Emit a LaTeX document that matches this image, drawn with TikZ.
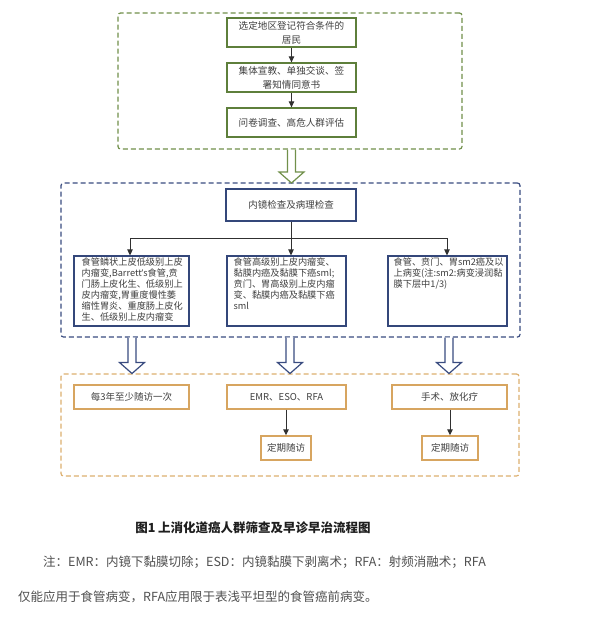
\documentclass[tikz,border=0pt]{standalone}
\usepackage{fontspec}
\setmainfont{Noto Sans CJK SC}
\newfontfamily\latinfont{Noto Sans}
\usetikzlibrary{arrows.meta,calc}
\definecolor{gfr}{HTML}{71904A}
\definecolor{gbx}{HTML}{5E7F3B}
\definecolor{bfr}{HTML}{3A4C80}
\definecolor{bbx}{HTML}{34477A}
\definecolor{ofr}{HTML}{DDB070}
\definecolor{obx}{HTML}{D7A560}
\definecolor{txt}{HTML}{404040}
\definecolor{arr}{HTML}{303030}
\definecolor{notecol}{HTML}{505050}
\newcommand\boxfont{\fontsize{9.5}{11}\selectfont}
\newcommand\gboxfont{\fontsize{9.6}{14}\selectfont}
\newcommand\bboxfont{\fontsize{9.2}{11}\selectfont}
\newcommand\hollowarrow[4]{%
  \draw[#4, line width=1.2pt, fill=white, line join=miter]
    (#1-4,#2) -- (#1-4,#3-11) -- (#1-12.5,#3-11) -- (#1,#3)
    -- (#1+12.5,#3-11) -- (#1+4,#3-11) -- (#1+4,#2);}
\begin{document}
\begin{tikzpicture}[x=1pt,y=-1pt,
  frame/.style={draw, dash pattern=on 5pt off 3pt, line width=1.2pt, rounded corners=2.5pt, inner sep=0},
  gbox/.style={draw=gbx, line width=1.3pt, minimum width=129pt, minimum height=29pt, align=center, font=\gboxfont, text=txt, inner sep=0},
  bbox/.style={draw=bbx, line width=1.2pt, minimum height=70pt, inner sep=0},
  btext/.style={anchor=north west, align=left, font=\bboxfont, text=txt, inner sep=0},
  obox/.style={draw=obx, line width=1.4pt, minimum height=24pt, align=center, font=\boxfont, text=txt, inner sep=0},
  conn/.style={draw=arr, line width=0.9pt, -{Triangle[length=6pt,width=5.5pt]}},
  plain/.style={draw=arr, line width=0.9pt}
]
\useasboundingbox[fill=white] (0,0) rectangle (600,625);

% frames
\node[frame, draw=gfr, minimum width=344pt, minimum height=136pt] (gframe) at (290,81) {};
\node[frame, draw=bfr, minimum width=459pt, minimum height=154pt] (bframe) at (290.5,260) {};
\node[frame, draw=ofr, minimum width=458pt, minimum height=102pt] (oframe) at (290,425) {};

% green boxes
\node[gbox] (g1) at (291.5,32.5) {选定地区登记符合条件的\\居民};
\node[gbox] (g2) at (291.5,77.5) {集体宣教、单独交谈、签\\署知情同意书};
\node[gbox] (g3) at (291.5,122.5) {问卷调查、高危人群评估};
\draw[conn] (g1) -- (g2);
\draw[conn] (g2) -- (g3);

% blue section
\node[draw=bbx, line width=1.2pt, minimum width=130pt, minimum height=32pt, font=\boxfont, text=txt, inner sep=0] (endo) at (291,205) {内镜检查及病理检查};
\node[bbox, minimum width=115pt] (bl) at (131.5,291) {};
\node[bbox, minimum width=119pt] (bm) at (286.5,291) {};
\node[bbox, minimum width=119pt] (br) at (447.5,291) {};
\node[btext] (tl) at ($(bl.north west)+(8,2)$) {食管鳞状上皮低级别上皮\\内瘤变,Barrett{\latinfont ’}s食管,贲\\门肠上皮化生、低级别上\\皮内瘤变,胃重度慢性萎\\缩性胃炎、重度肠上皮化\\生、低级别上皮内瘤变};
\node[btext] (tm) at ($(bm.north west)+(7,2)$) {食管高级别上皮内瘤变、\\黏膜内癌及黏膜下癌sml;\\贲门、胃高级别上皮内瘤\\变、黏膜内癌及黏膜下癌\\sml};
\node[btext] (tr) at ($(br.north west)+(6,2)$) {食管、贲门、胃sm2癌及以\\上病变(注:sm2:病变浸润黏\\膜下层中1/3)};

\coordinate (bar) at (0,238);
\coordinate (al) at (130,238);
\coordinate (am) at (291,238);
\coordinate (ar) at (447,238);
\draw[plain] (endo.south) -- (endo.south |- bar);
\draw[plain] (al) -- (ar);
\draw[conn] (al) -- (al |- bl.north);
\draw[conn] (am) -- (am |- bm.north);
\draw[conn] (ar) -- (ar |- br.north);

% orange section
\node[obox, minimum width=115pt] (ol) at (131.5,397) {每3年至少随访一次};
\node[obox, minimum width=119pt] (om) at (286.5,397) {EMR、ESO、RFA};
\node[obox, minimum width=115pt] (or) at (449.5,397) {手术、放化疗};
\node[obox, minimum width=50pt] (omb) at (286,448) {定期随访};
\node[obox, minimum width=56pt] (orb) at (450,448) {定期随访};
\draw[conn] (om.south -| omb.north) -- (omb.north);
\draw[conn] (or.south -| orb.north) -- (orb.north);

% hollow arrows
\hollowarrow{291.5}{149.6}{183}{gfr}
\hollowarrow{132}{337.6}{373.5}{bfr}
\hollowarrow{290}{337.6}{373.5}{bfr}
\hollowarrow{449}{337.6}{373.5}{bfr}

% caption and note
\node[font=\bfseries\fontsize{12.5}{14}\selectfont, text=black!88, inner sep=0] (cap) at (253,528) {图1 上消化道癌人群筛查及早诊早治流程图};
\node[anchor=west, inner sep=0, text=notecol, font=\fontsize{12.5}{14}\selectfont] (n1) at (43,562) {注：EMR：内镜下黏膜切除；ESD：内镜黏膜下剥离术；RFA：射频消融术；RFA};
\node[anchor=west, inner sep=0, text=notecol, font=\fontsize{12.5}{14}\selectfont] (n2) at (18,597) {仅能应用于食管病变，RFA应用限于表浅平坦型的食管癌前病变。};
\end{tikzpicture}
\end{document}
